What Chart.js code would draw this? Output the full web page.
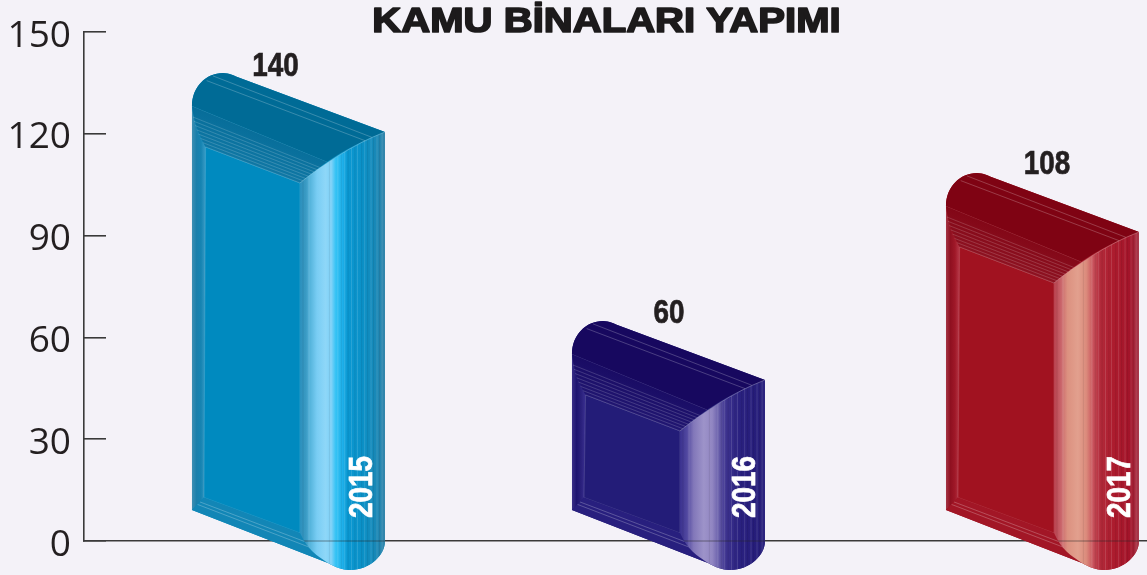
<!DOCTYPE html>
<html lang="tr">
<head>
<meta charset="utf-8">
<style>html,body{margin:0;padding:0;background:#f4f2f8;overflow:hidden}canvas{display:block}</style>
<script src="https://cdn.jsdelivr.net/npm/chart.js@4"></script>
</head>
<body>
<canvas id="c" width="1147" height="575"></canvas>
<script>
const titleText = 'KAMU BİNALARI YAPIMI';
const categories = ['2015', '2016', '2017'];
const values = [140, 60, 108];
const yTicks = [0, 30, 60, 90, 120, 150];
const frontColors = ['#008abf', '#231c78', '#a11220'];
const topColors = ['#006b96', '#17085f', '#7f0313'];
const bevelColors = [['#066c98', '#1179a6'], ['#180a62', '#221873'], ['#810515', '#8f1423']];
const edgeColors = ['#1286b6', '#281f7e', '#a21626'];
const leftStrip = [
  ['#3d8fb3', '#1a7fab', '#1684b2', '#3a9cc6'],
  ['#3a2f88', '#1e1470', '#2a207c', '#3a3090'],
  ['#a53545', '#8f1020', '#a01828', '#b73a4a']];
const sideStops = [
  [[0, '#2b90bd'], [.07, '#3a9ac3'], [.12, '#55b4dc'], [.2, '#79cdf4'], [.3, '#8ed7f8'], [.37, '#7fd2f8'], [.42, '#35c3f5'], [.5, '#1eb0ea'], [.56, '#0a98d2'], [.75, '#0b90c6'], [.9, '#1a88b6'], [1, '#3485aa']],
  [[0, '#3a318f'], [.08, '#50479f'], [.16, '#8277b9'], [.28, '#9d93c9'], [.38, '#9186c2'], [.46, '#665ca9'], [.54, '#3d338f'], [.7, '#2a2180'], [.9, '#261d7a'], [1, '#2c2480']],
  [[0, '#b9404e'], [.08, '#c9636a'], [.16, '#dc9180'], [.28, '#e2a08e'], [.38, '#db8b7c'], [.46, '#c9525c'], [.54, '#b22a3a'], [.7, '#ad1c2e'], [.9, '#a3142a'], [1, '#a83a4c']]];
const sideLines = [.03, .1, .34, .44, .48, .52, .56, .6, .64, .67, .72, .755, .79, .83, .86, .9, .93, .96];
const barAnchor = [
  {dx: 0, dy: 7, lx: 83.5, ly: -6.5, yr: 170.5},
  {dx: 3, dy: -16.5, lx: 97, ly: -7, yr: 174},
  {dx: 0, dy: -1.6, lx: 101, ly: -8, yr: 174.5}];

function bez(c, L, T, a) { c.bezierCurveTo(L+a[0], T+a[1], L+a[2], T+a[3], L+a[4], T+a[5]); }

function condensed(c, text) {
  c.save();
  c.scale(0.82, 1);
  c.font = 'bold 34px "Liberation Sans"';
  c.lineWidth = .7; c.strokeStyle = c.fillStyle;
  c.strokeText(text, 0, 0);
  c.fillText(text, 0, 0);
  c.restore();
}

function drawBar(c, el, i, y0) {
  const s = barAnchor[i];
  const L = el.x - 96.5 + s.dx, T = el.y + s.dy;
  c.beginPath();
  c.moveTo(L, T+33);
  bez(c, L, T, [0, 14, 14, 0, 31, 0]);
  bez(c, L, T, [37, 0, 43, 3, 48, 5]);
  c.lineTo(L+193, T+59);
  c.lineTo(L+193, y0);
  bez(c, L, y0, [193, 14, 178, 29, 158, 29]);
  bez(c, L, y0, [150, 29, 143, 26, 136, 22]);
  c.lineTo(L, y0-31);
  c.closePath();
  c.fillStyle = frontColors[i]; c.fill();

  // left strip
  c.beginPath();
  c.moveTo(L, T+33); c.bezierCurveTo(L+2, T+50, L+8, T+64, L+13.6, T+74);
  c.lineTo(L+12, y0-43.5); c.lineTo(L, y0-31); c.closePath();
  let g = c.createLinearGradient(L, 0, L+13.6, 0);
  leftStrip[i].forEach((col, k) => g.addColorStop(k/3, col));
  c.fillStyle = g; c.fill();

  // front face
  c.beginPath();
  c.moveTo(L+13.6, T+74); c.lineTo(L+108, T+110); c.lineTo(L+108, y0-8); c.lineTo(L+12, y0-43.5); c.closePath();
  c.fillStyle = frontColors[i]; c.fill();
  c.strokeStyle = 'rgba(255,255,255,.14)'; c.lineWidth = 1; c.stroke();

  // bottom bevel
  c.beginPath();
  c.moveTo(L, y0-31); c.lineTo(L+12, y0-43.5); c.lineTo(L+108, y0-8);
  c.bezierCurveTo(L+115, y0+8, L+125, y0+15, L+136, y0+22); c.closePath();
  c.fillStyle = edgeColors[i]; c.fill();
  c.save(); c.clip();
  c.strokeStyle = 'rgba(255,255,255,.3)'; c.lineWidth = .8;
  [.35, .55].forEach(t => {
    c.beginPath();
    c.moveTo(L + 12*(1-t), y0 - 31 - 12.5*(1-t));
    c.lineTo(L + 108 + 28*t, y0 - 8 + 30*t);
    c.stroke();
  });
  c.restore();

  // side face
  c.save();
  c.beginPath();
  c.moveTo(L+108, T+110);
  c.bezierCurveTo(L+130, T+92, L+160, T+72, L+193, T+59);
  c.lineTo(L+193, y0);
  bez(c, L, y0, [193, 14, 178, 29, 158, 29]);
  bez(c, L, y0, [150, 29, 143, 26, 136, 22]);
  c.bezierCurveTo(L+125, y0+15, L+115, y0+8, L+108, y0-8);
  c.closePath();
  g = c.createLinearGradient(L+108, 0, L+193, 0);
  sideStops[i].forEach(p => g.addColorStop(p[0], p[1]));
  c.fillStyle = g; c.fill();
  c.clip();
  sideLines.forEach((t, k) => {
    c.fillStyle = k % 2 ? 'rgba(255,255,255,.13)' : 'rgba(0,0,0,.08)';
    c.fillRect(L + 108 + 85*t, T, 1, y0 + 40 - T);
  });
  c.fillStyle = 'rgba(40,40,40,.32)'; c.fillRect(L+108, y0-.8, 85, 1.6);
  c.restore();

  // bevel under the top
  c.beginPath();
  c.moveTo(L, T+33); c.bezierCurveTo(L+2, T+50, L+8, T+64, L+13.6, T+74);
  c.lineTo(L+108, T+110); c.bezierCurveTo(L+116, T+103, L+125, T+96, L+135, T+88.7); c.closePath();
  g = c.createLinearGradient(L+60, T+50, L+45, T+92);
  g.addColorStop(0, bevelColors[i][0]); g.addColorStop(1, bevelColors[i][1]);
  c.fillStyle = g; c.fill();
  c.strokeStyle = 'rgba(255,255,255,.24)'; c.lineWidth = .7;
  for (let k = 0; k <= 8; k++) {
    const t = k === 0 ? 0 : (k + 1.6) / 9.6;
    const xa = 13.6*t*t, ya = 33 + 41*t;
    const xb = 135 - 27*t, yb = 88.7 + 21.3*t;
    c.beginPath(); c.moveTo(L+xa, T+ya); c.lineTo(L+xb, T+yb); c.stroke();
  }

  // top face
  c.beginPath();
  c.moveTo(L, T+33);
  bez(c, L, T, [0, 14, 14, 0, 31, 0]);
  bez(c, L, T, [37, 0, 43, 3, 48, 5]);
  c.lineTo(L+193, T+59);
  c.bezierCurveTo(L+172, T+67, L+152, T+77, L+135, T+88.7);
  c.closePath();
  c.fillStyle = topColors[i]; c.fill();
  c.strokeStyle = 'rgba(255,255,255,.28)'; c.lineWidth = .8;
  [[14.7, 7.7, 173, 67.7], [21, 3, 179.7, 64.3]].forEach(p => {
    c.beginPath(); c.moveTo(L+p[0], T+p[1]); c.lineTo(L+p[2], T+p[3]); c.stroke();
  });
  c.beginPath(); c.moveTo(L+108, T+110); c.bezierCurveTo(L+130, T+92, L+160, T+72, L+193, T+59);
  c.strokeStyle = 'rgba(255,255,255,.35)'; c.stroke();

  // value label
  c.save();
  c.translate(L + s.lx, T + s.ly);
  c.fillStyle = '#231f20';
  c.textAlign = 'center'; c.textBaseline = 'middle';
  condensed(c, String(values[i]));
  c.restore();

  // year label on the side
  c.save();
  c.translate(L + s.yr, y0 - 23);
  c.rotate(-Math.PI/2);
  c.fillStyle = '#ffffff';
  c.textAlign = 'left'; c.textBaseline = 'middle';
  condensed(c, categories[i]);
  c.restore();
}

const bars3d = {
  id: 'bars3d',
  beforeDatasetDraw(chart, args) {
    const y0 = chart.scales.y.getPixelForValue(0);
    chart.ctx.save();
    args.meta.data.forEach((el, i) => drawBar(chart.ctx, el, i, y0));
    chart.ctx.restore();
    return false;
  }
};
const bannerTitle = {
  id: 'bannerTitle',
  afterDraw(chart) {
    const c = chart.ctx;
    c.save();
    c.translate(606.5, 22);
    c.scale(1.145, 1);
    c.font = 'bold 35px "Liberation Sans"';
    c.textAlign = 'center'; c.textBaseline = 'middle';
    c.fillStyle = c.strokeStyle = '#1c1a1b';
    c.lineWidth = 1.7; c.lineJoin = 'round';
    c.strokeText(titleText, 0, 0);
    c.fillText(titleText, 0, 0);
    c.restore();
  }
};
const paintBg = {
  id: 'paintBg',
  beforeDraw(chart) { const c = chart.ctx; c.save(); c.fillStyle = '#f4f2f8'; c.fillRect(0, 0, chart.width, chart.height); c.restore(); }
};

new Chart(document.getElementById('c'), {
  type: 'bar',
  data: { datasets: [{
    label: 'Kamu binaları yapımı',
    data: categories.map((yr, i) => ({x: Number(yr), y: values[i]})),
    backgroundColor: frontColors,
    barThickness: 108
  }]},
  plugins: [paintBg, bars3d, bannerTitle],
  options: {
    responsive: false, animation: false, devicePixelRatio: 1,
    layout: {padding: {top: 32, bottom: 34, left: 0, right: 0}},
    plugins: {legend: {display: false}, tooltip: {enabled: false}, title: {display: false, text: titleText}},
    scales: {
      x: {
        type: 'linear', min: 2014.4576, max: 2017.2772, offset: false,
        ticks: {display: false},
        grid: {display: true, drawOnChartArea: false, drawTicks: false},
        border: {display: true, color: '#3a3a3a', width: 1.6}
      },
      y: {
        min: 0, max: 150,
        afterBuildTicks(ax) { ax.ticks = yTicks.map(v => ({value: v})); },
        afterFit(ax) { ax.width = 84; ax.paddingTop = 0; ax.paddingBottom = 0; },
        ticks: {font: {family: '"Open Sans"', size: 37}, color: '#231f20', padding: 35, labelOffset: 4, crossAlign: 'near'},
        grid: {drawOnChartArea: false, drawTicks: true, tickLength: -22, color: '#3a3a3a', lineWidth: 1.6},
        border: {display: true, color: '#3a3a3a', width: 1.6}
      }
    }
  }
});
</script>
</body>
</html>
